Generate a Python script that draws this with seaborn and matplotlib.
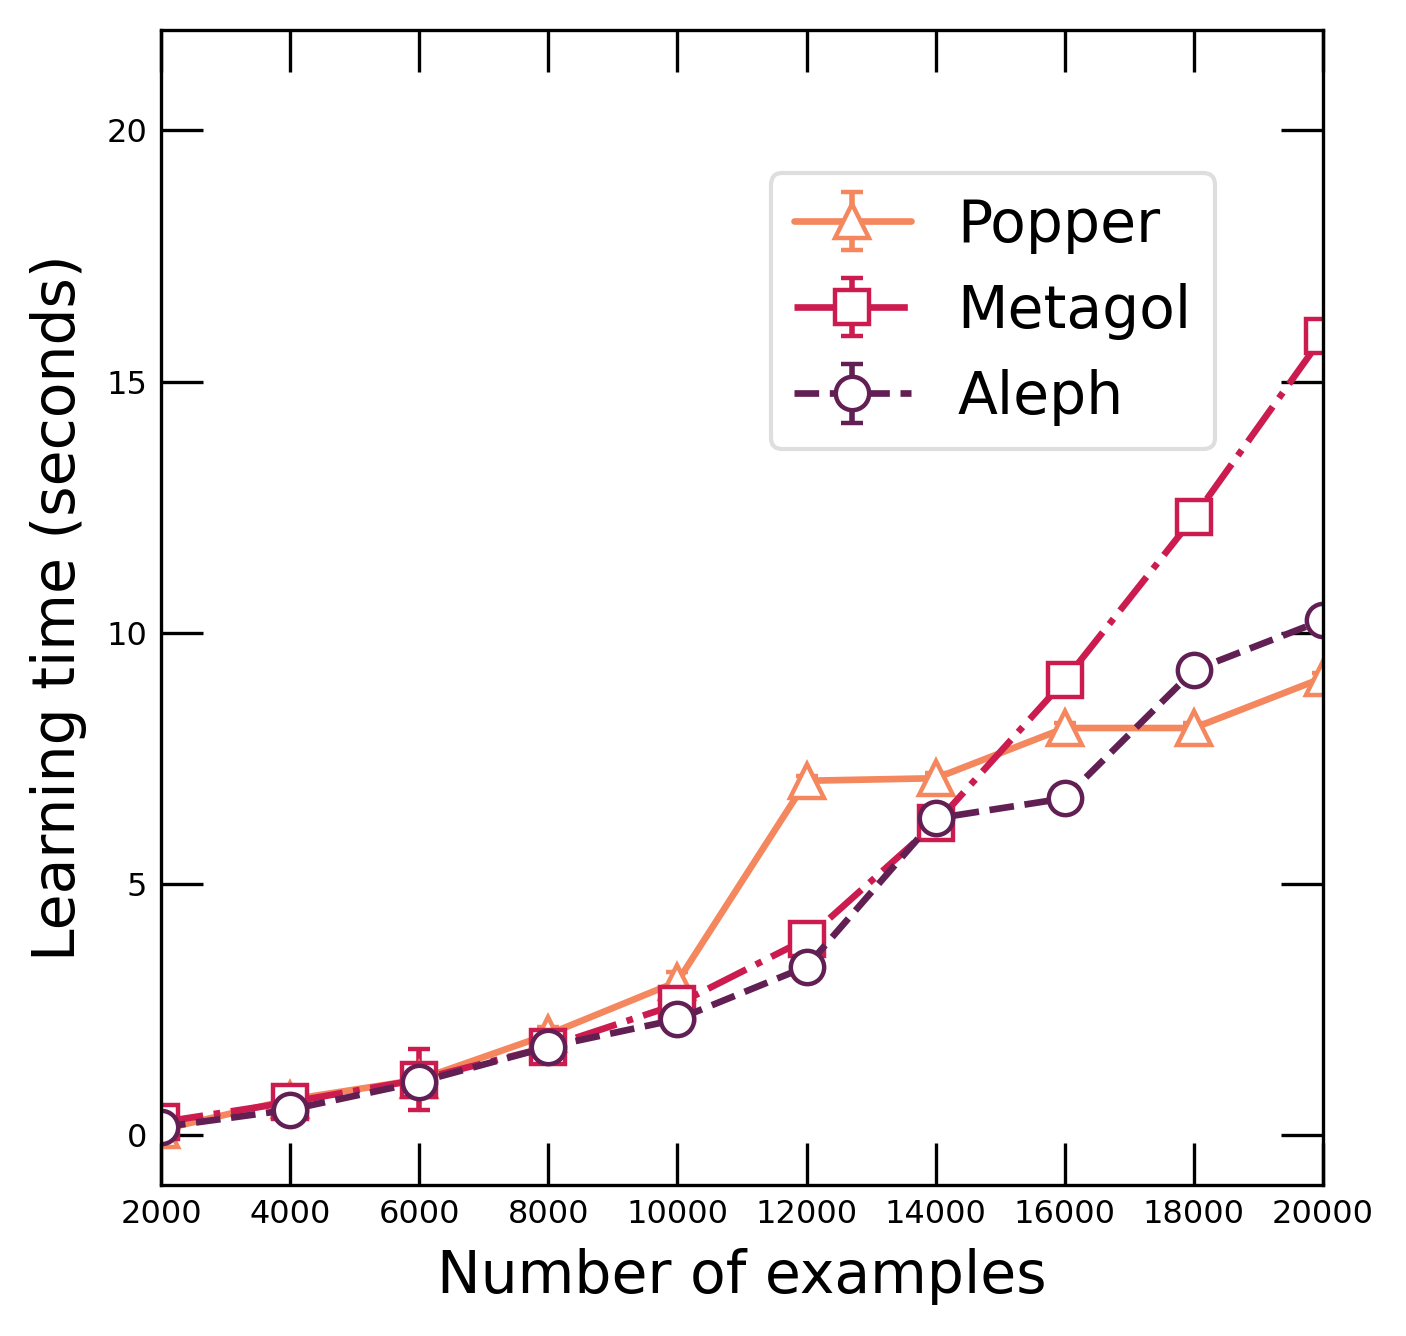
import numpy as np
import matplotlib
matplotlib.use("Agg")
import matplotlib.pyplot as plt
import seaborn as sns

examples = [2000, 4000, 6000, 8000, 10000, 12000, 14000, 16000, 18000, 20000]
popper = [0.1, 0.7, 1.1, 2.0, 3.05, 7.05, 7.1, 8.1, 8.1, 9.1]
popper_err = [0.15, 0.25, 0.1, 0.15, 0.2, 0.1, 0.1, 0.1, 0.1, 0.1]
metagol = [0.25, 0.65, 1.1, 1.75, 2.6, 3.9, 6.2, 9.05, 12.3, 15.9]
metagol_err = [0.25, 0.15, 0.6, 0.1, 0.1, 0.1, 0.1, 0.1, 0.1, 0.1]
aleph = [0.15, 0.5, 1.05, 1.75, 2.3, 3.35, 6.3, 6.7, 9.25, 10.25]
aleph_err = [0.05, 0.05, 0.05, 0.05, 0.05, 0.05, 0.05, 0.05, 0.05, 0.05]

systems = ["Popper", "Metagol", "Aleph"]
xticks = [2000, 4000, 6000, 8000, 10000, 12000, 14000, 16000, 18000, 20000]
yticks = [0, 5, 10, 15, 20]

sns.set_style("white")
plt.rcParams['font.family'] = ['DejaVu Sans']
plt.rcParams['text.color'] = 'black'
plt.rcParams['axes.labelcolor'] = 'black'
plt.rcParams['xtick.color'] = 'black'
plt.rcParams['ytick.color'] = 'black'

colors = ["#F4875E", "#CB1B4F", "#611F53"]
markers = ["^", "s", "o"]
styles = ["-", "-.", "--"]
series = [(popper, popper_err), (metagol, metagol_err), (aleph, aleph_err)]

fig = plt.figure(figsize=(7.03, 6.68), dpi=200)
ax = fig.add_axes([161/1406, 1 - 1185/1336, 1162/1406, 1155/1336])

for name, (vals, errs), c, m, ls in zip(systems, series, colors, markers, styles):
    ax.errorbar(examples, vals, yerr=errs, label=name, color=c, marker=m, linestyle=ls,
                linewidth=2.4, markersize=12, markerfacecolor="white", markeredgecolor=c,
                markeredgewidth=1.6, capsize=4, capthick=2, elinewidth=2)

ax.set_xlim(2000, 20000)
ax.set_ylim(-1, 22)
ax.set_xticks(xticks)
ax.set_xticklabels([str(t) for t in xticks])
ax.set_yticks(yticks)
ax.tick_params(direction="in", length=15, width=1.2, labelsize=11.5, top=True, right=True,
               bottom=True, left=True, pad=5, colors="black")
for s in ax.spines.values():
    s.set_linewidth(1.2)
    s.set_color("black")
ax.set_xlabel("Number of examples", fontsize=21, color="black", labelpad=6.5)
ax.set_ylabel("Learning time (seconds)", fontsize=21, color="black", labelpad=7)

leg = ax.legend(loc="upper right", bbox_to_anchor=(0.907, 0.876), fontsize=21,
                frameon=True, handlelength=2.0, borderpad=0.4, labelspacing=0.5,
                handletextpad=0.8, borderaxespad=0)
leg.get_frame().set_edgecolor("#d6d6d6")
leg.get_frame().set_linewidth(1.5)
for t in leg.get_texts():
    t.set_color("black")

fig.savefig("out.png", dpi=200)
